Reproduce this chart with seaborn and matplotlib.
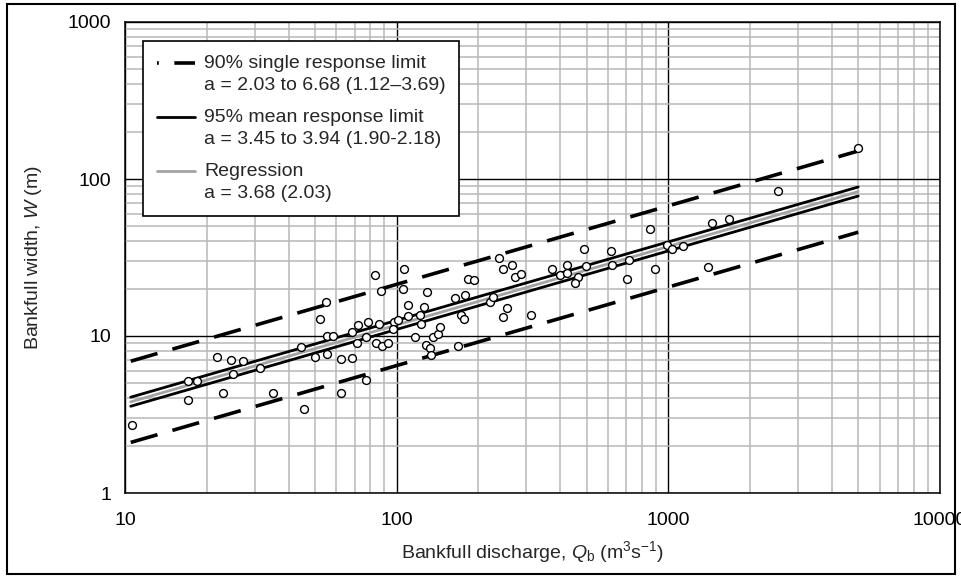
import numpy as np
import matplotlib
matplotlib.use("Agg")
import matplotlib.pyplot as plt
import seaborn as sns
from matplotlib.lines import Line2D
from matplotlib.legend_handler import HandlerLine2D
from matplotlib.patches import Rectangle
from matplotlib.ticker import LogLocator, NullFormatter

# bankfull discharge (m3/s) and bankfull width (m) of the surveyed reaches
discharge = [10.6, 17.0, 18.4, 17.0, 21.8, 24.6, 27.3, 24.9, 23.0, 31.5,
             35.2, 45.4, 44.4, 49.9, 52.3, 55.1, 55.3, 58.3, 55.4, 62.4,
             62.5, 68.7, 68.5, 71.8, 71.4, 76.9, 78.2, 76.9, 83.5, 85.8,
             87.6, 84.0, 88.4, 93.2, 97.5, 101.5, 96.7, 106.8, 105.6, 110.2,
             110.2, 117.2, 122.3, 126.2, 123.3, 129.8, 128.7, 133.1, 134.2, 135.7,
             141.6, 144.9, 168.4, 164.6, 178.1, 172.8, 177.7, 182.7, 193.4, 221.5,
             225.8, 237.7, 246.7, 264.7, 272.3, 285.8, 253.7, 245.9, 311.8, 371.7,
             397.9, 424.8, 424.8, 464.7, 453.0, 489.0, 496.0, 613.4, 622.2, 717.6,
             706.8, 856, 893, 992, 1035, 1137, 1401, 1445, 1674, 2538,
             4977]
width = [2.73, 5.17, 5.17, 3.91, 7.35, 7.03, 6.93, 5.70, 4.32, 6.25,
         4.32, 3.41, 8.55, 7.35, 12.83, 16.54, 10.0, 10.04, 7.64, 7.14,
         4.32, 7.19, 10.56, 11.72, 9.07, 9.90, 12.23, 5.21, 24.5, 12.01,
         19.35, 9.07, 8.68, 9.07, 12.23, 12.59, 11.08, 26.7, 19.93, 15.76,
         13.41, 9.90, 13.61, 15.41, 11.92, 18.98, 8.76, 8.35, 7.60, 9.90,
         10.30, 11.41, 8.68, 17.39, 18.16, 13.61, 12.78, 23.2, 22.7, 16.54,
         17.80, 31.5, 26.6, 28.2, 23.6, 24.7, 15.15, 13.21, 13.55, 26.6,
         24.5, 28.5, 25.1, 23.9, 21.9, 35.7, 27.9, 34.8, 28.5, 30.7,
         23.0, 48.3, 26.6, 37.8, 36.0, 37.6, 27.6, 52.2, 55.4, 84.2,
         156.9]

# W = a * Q^0.5 / sqrt(g) over the range of the data
q_range = [10.5, 5000]
a_regression = 3.68
a_mean_limits = [3.45, 3.94]
a_single_limits = [2.03, 6.68]
g = 9.81

x_ticks = [10, 100, 1000, 10000]
y_ticks = [1, 10, 100, 1000]
legend_labels = ["90% single response limit\na = 2.03 to 6.68 (1.12\u20133.69)",
                 "95% mean response limit\na = 3.45 to 3.94 (1.90-2.18)",
                 "Regression\na = 3.68 (2.03)"]

LIGHT_GREY = "#a3a3a3"
DASH = (0, (7.7, 4.3))
LINE_SPACING = 1.42


def relation(a):
    return [a * q ** 0.5 / np.sqrt(g) for q in q_range]


class FirstLineHandler(HandlerLine2D):
    """Puts the legend sample beside the first line of a two-line label."""
    def create_artists(self, legend, orig_handle, xdescent, ydescent,
                       width, height, fontsize, trans):
        artists = super().create_artists(legend, orig_handle, xdescent, ydescent,
                                         width, height, fontsize, trans)
        for art in artists:
            art.set_ydata([y + 0.58 * fontsize for y in art.get_ydata()])
        return artists


sns.set_theme(style="white")
plt.rcParams["font.family"] = ["Liberation Sans", "DejaVu Sans"]
plt.rcParams["mathtext.fontset"] = "custom"
plt.rcParams["mathtext.rm"] = "Liberation Sans"
plt.rcParams["mathtext.it"] = "Liberation Sans:italic"

fig, ax = plt.subplots(figsize=(9.62, 5.78), dpi=100)
fig.subplots_adjust(left=125 / 962, right=940 / 962, bottom=1 - 493 / 578, top=1 - 22 / 578)

ax.set_xscale("log")
ax.set_yscale("log")
ax.set_xlim(10, 10000)
ax.set_ylim(1, 1000)

for axis in (ax.xaxis, ax.yaxis):
    axis.set_minor_locator(LogLocator(base=10, subs=np.arange(2, 10), numticks=30))
    axis.set_minor_formatter(NullFormatter())
ax.grid(which="minor", color="#b8b8b8", linewidth=1.1)
ax.grid(which="major", color="black", linewidth=1.0)
ax.set_axisbelow(True)

for a in a_single_limits:
    sns.lineplot(x=q_range, y=relation(a), ax=ax, color="black", linewidth=2.6,
                 linestyle=DASH, estimator=None, errorbar=None, zorder=3)
for a in a_mean_limits:
    sns.lineplot(x=q_range, y=relation(a), ax=ax, color="black", linewidth=2.0,
                 estimator=None, errorbar=None, zorder=3)
sns.lineplot(x=q_range, y=relation(a_regression), ax=ax, color=LIGHT_GREY,
             linewidth=2.0, estimator=None, errorbar=None, zorder=3)

sns.scatterplot(x=discharge, y=width, ax=ax, marker="o", s=32, color="white",
                edgecolor="black", linewidth=1.0, zorder=5)

ax.set_xticks(x_ticks, [str(t) for t in x_ticks])
ax.set_yticks(y_ticks, [str(t) for t in y_ticks])
ax.tick_params(which="both", length=0, labelsize=14, colors="black")
ax.tick_params(axis="x", pad=14)
ax.tick_params(axis="y", pad=10)
ax.set_xlabel(r"Bankfull discharge, $Q_\mathrm{b}$ (m$^3$s$^{-1}$)", fontsize=14, labelpad=7)
ax.set_ylabel(r"Bankfull width, $W$ (m)", fontsize=14, labelpad=17)

for spine in ax.spines.values():
    spine.set_color("black")
    spine.set_linewidth(1.1)

handles = [Line2D([], [], color="black", linewidth=2.6, linestyle=(7.2, (7.7, 4.3))),
           Line2D([], [], color="black", linewidth=2.0),
           Line2D([], [], color=LIGHT_GREY, linewidth=2.0)]
leg = ax.legend(handles, legend_labels, loc="upper left",
                bbox_to_anchor=(18 / 815, 1 - 19 / 471), borderaxespad=0,
                frameon=True, fancybox=False, edgecolor="black", framealpha=1,
                fontsize=14, handlelength=1.95, handletextpad=0.5, borderpad=0.7,
                labelspacing=0.75, handler_map={Line2D: FirstLineHandler()})
for text in leg.get_texts():
    text.set_linespacing(LINE_SPACING)
leg.get_frame().set_linewidth(1.2)
leg.set_zorder(10)

fig.patches.append(Rectangle((7 / 962, 4 / 578), 948 / 962, 570 / 578,
                             transform=fig.transFigure, fill=False,
                             edgecolor="black", linewidth=1.5))

fig.savefig("out.png", dpi=100)
